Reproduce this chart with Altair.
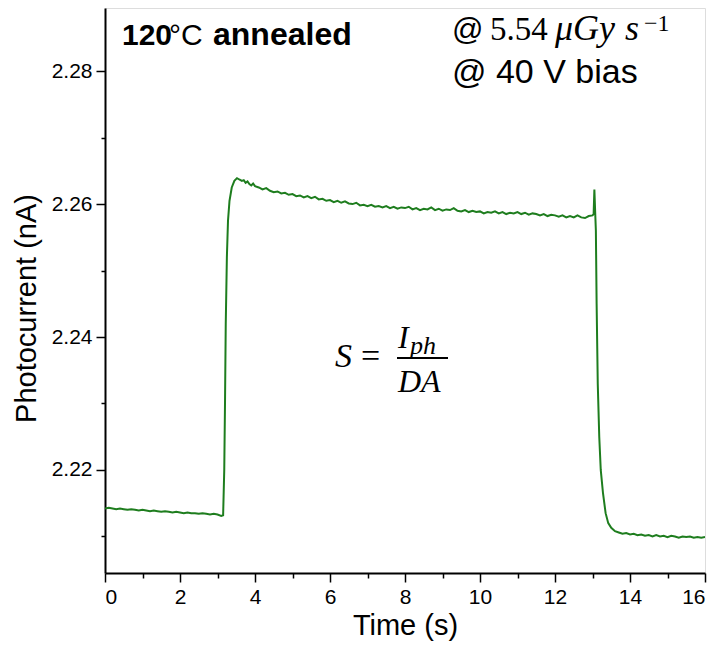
import altair as alt
import pandas as pd

# ---- data ----
time_s = [
    0.0, 0.1, 0.2, 0.3, 0.4, 0.5, 0.6, 0.7, 0.8, 0.9,
    1.0, 1.1, 1.2, 1.3, 1.4, 1.5, 1.6, 1.7, 1.8, 1.9,
    2.0, 2.1, 2.2, 2.3, 2.4, 2.5, 2.6, 2.7, 2.8, 2.9,
    3.0, 3.1, 3.15, 3.18, 3.20, 3.22, 3.25, 3.28, 3.32, 3.38,
    3.45, 3.52, 3.58, 3.65, 3.7, 3.75, 3.8, 3.85, 3.9, 3.95,
    4.0, 4.1, 4.2, 4.3, 4.4, 4.5, 4.6, 4.7, 4.8, 4.9,
    5.0, 5.1, 5.2, 5.3, 5.4, 5.5, 5.6, 5.7, 5.8, 5.9,
    6.0, 6.1, 6.2, 6.3, 6.4, 6.5, 6.6, 6.7, 6.8, 6.9,
    7.0, 7.1, 7.2, 7.3, 7.4, 7.5, 7.6, 7.7, 7.8, 7.9,
    8.0, 8.1, 8.2, 8.3, 8.4, 8.5, 8.6, 8.7, 8.8, 8.9,
    9.0, 9.1, 9.2, 9.3, 9.4, 9.5, 9.6, 9.7, 9.8, 9.9,
    10.0, 10.1, 10.2, 10.3, 10.4, 10.5, 10.6, 10.7, 10.8, 10.9,
    11.0, 11.1, 11.2, 11.3, 11.4, 11.5, 11.6, 11.7, 11.8, 11.9,
    12.0, 12.1, 12.2, 12.3, 12.4, 12.5, 12.6, 12.7, 12.8, 12.9,
    13.0, 13.03, 13.05, 13.07, 13.09, 13.11, 13.14, 13.18, 13.22, 13.28,
    13.35, 13.42, 13.5, 13.6, 13.7, 13.8, 13.9, 14.0, 14.1, 14.2,
    14.3, 14.4, 14.5, 14.6, 14.7, 14.8, 14.9, 15.0, 15.1, 15.2,
    15.3, 15.4, 15.5, 15.6, 15.7, 15.8, 15.9, 16.0,
]
photocurrent_nA = [
    2.2142, 2.2143, 2.2142, 2.2141, 2.2142, 2.2141, 2.2140, 2.2141, 2.2140, 2.2139,
    2.2140, 2.2139, 2.2138, 2.2139, 2.2138, 2.2137, 2.2138, 2.2137, 2.2136, 2.2137,
    2.2136, 2.2135, 2.2136, 2.2135, 2.2135, 2.2134, 2.2135, 2.2134, 2.2133, 2.2134,
    2.2133, 2.2131, 2.2132, 2.2200, 2.2300, 2.2420, 2.2520, 2.2575, 2.2605, 2.2625,
    2.2635, 2.2639, 2.2637, 2.2635, 2.2636, 2.2632, 2.2634, 2.2630, 2.2628, 2.2631,
    2.2627, 2.2625, 2.2622, 2.2624, 2.2620, 2.2618, 2.2619, 2.2616, 2.2617, 2.2614,
    2.2615, 2.2612, 2.2613, 2.2610, 2.2612, 2.2609, 2.2611, 2.2607, 2.2608, 2.2605,
    2.2606, 2.2603, 2.2605, 2.2602, 2.2604, 2.2601, 2.2600, 2.2602, 2.2598, 2.2599,
    2.2597, 2.2599, 2.2596, 2.2597, 2.2595, 2.2597, 2.2594, 2.2596, 2.2593, 2.2595,
    2.2594, 2.2596, 2.2592, 2.2594, 2.2591, 2.2593, 2.2592, 2.2595, 2.2591, 2.2593,
    2.2590, 2.2592, 2.2591, 2.2594, 2.2590, 2.2589, 2.2591, 2.2588, 2.2590, 2.2588,
    2.2589, 2.2586, 2.2588, 2.2587, 2.2589, 2.2586, 2.2588, 2.2585, 2.2587, 2.2586,
    2.2588, 2.2585, 2.2587, 2.2584, 2.2586, 2.2585, 2.2583, 2.2585, 2.2582, 2.2584,
    2.2583, 2.2581, 2.2583, 2.2580, 2.2582, 2.2580, 2.2583, 2.2580, 2.2579, 2.2582,
    2.2583, 2.2585, 2.2622, 2.2590, 2.2560, 2.2450, 2.2330, 2.2250, 2.2200, 2.2165,
    2.2135, 2.2120, 2.2113, 2.2108, 2.2106, 2.2104, 2.2105, 2.2103, 2.2104, 2.2102,
    2.2103, 2.2101, 2.2102, 2.2100, 2.2102, 2.2100, 2.2101, 2.2099, 2.2101, 2.2100,
    2.2098, 2.2100, 2.2099, 2.2100, 2.2098, 2.2099, 2.2098, 2.2099,
]
x_ticks = list(range(0, 17))
y_ticks = [2.21, 2.22, 2.23, 2.24, 2.25, 2.26, 2.27, 2.28]

df = pd.DataFrame({"t": time_s, "i": photocurrent_nA})

W, H = 600, 565
SANS = "Liberation Sans"
SERIF = "Liberation Serif"

x_axis = alt.Axis(
    values=x_ticks,
    title="Time (s)",
    grid=False,
    domainColor="black", domainWidth=2,
    tickColor="black", tickWidth=1.5,
    tickSize={"condition": {"test": "datum.value % 2 === 0", "value": 9}, "value": 5},
    labelExpr="datum.value % 2 === 0 ? datum.label : ''",
    labelFont=SANS, labelFontSize=21, labelColor="black", labelPadding=4,
    titleFont=SANS, titleFontSize=29, titleFontWeight="normal", titleColor="black",
    titlePadding=4,
)
y_axis = alt.Axis(
    values=y_ticks,
    format=".2f",
    title="Photocurrent (nA)",
    grid=False,
    domainColor="black", domainWidth=2,
    tickColor="black", tickWidth=1.5,
    tickSize={"condition": {"test": "round(datum.value * 100) % 2 === 0", "value": 9}, "value": 4},
    labelExpr="round(datum.value * 100) % 2 === 0 ? datum.label : ''",
    labelFont=SANS, labelFontSize=21, labelColor="black", labelPadding=4,
    titleFont=SANS, titleFontSize=29, titleFontWeight="normal", titleColor="black",
    titleX=-64, titleY=300, titleBaseline="bottom",
)

line = alt.Chart(df).mark_line(color="#1e7d1e", strokeWidth=2, clip=True).encode(
    x=alt.X("t:Q", scale=alt.Scale(domain=[0, 16], nice=False, zero=False), axis=x_axis),
    y=alt.Y("i:Q", scale=alt.Scale(domain=[2.2045, 2.2895], nice=False, zero=False), axis=y_axis),
)

one = pd.DataFrame({"k": [0]})


def txt(text, x, y, size, font=SANS, weight="normal", style="normal", align="left"):
    return alt.Chart(one).mark_text(
        text=text, font=font, fontSize=size, fontWeight=weight, fontStyle=style,
        align=align, baseline="alphabetic", color="black",
    ).encode(x=alt.value(x), y=alt.value(y))


annots = [
    txt("120", 17, 37, 30, weight="bold"),
    txt("°C", 64, 37, 30),
    txt("annealed", 108, 37, 32, weight="bold"),
    txt("@", 347, 32, 31),
    txt("5.54", 385, 32, 33, font=SERIF),
    txt("μGy", 450, 32, 36, font=SERIF, style="italic"),
    txt("s", 520, 32, 36, font=SERIF, style="italic"),
    txt("−1", 539, 23, 24, font=SERIF),
    txt("@ 40 V bias", 347, 75, 34),
    txt("S", 230, 359, 34, font=SERIF, style="italic"),
    txt("=", 256, 359, 34, font=SERIF),
    txt("I", 293, 340, 32, font=SERIF, style="italic"),
    txt("ph", 305, 346, 26, font=SERIF, style="italic"),
    txt("DA", 293, 384, 32, font=SERIF, style="italic"),
]

frac_bar = alt.Chart(one).mark_rule(color="black", strokeWidth=2).encode(
    x=alt.value(292), x2=alt.value(343), y=alt.value(350)
)

chart = alt.layer(line, frac_bar, *annots).properties(
    width=W, height=H,
    autosize=alt.AutoSizeParams(type="none"),
    padding={"left": 97, "top": 0, "right": 4, "bottom": 72},
).configure_view(stroke="black", strokeWidth=2).configure(background="white")

chart.save("out.html", embed_options={"renderer": "svg", "actions": False})
